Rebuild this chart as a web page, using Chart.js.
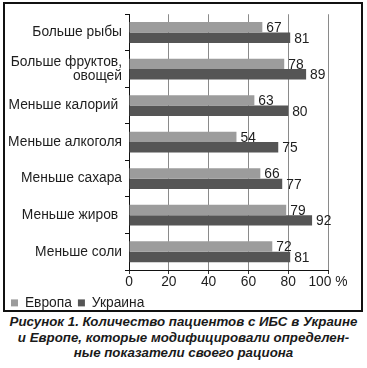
<!DOCTYPE html>
<html lang="ru">
<head>
    <meta charset="UTF-8">
    <title>Количество пациентов с ИБС</title>
    <script src="https://cdn.jsdelivr.net/npm/chart.js"></script>
    <style>
        body {
            margin: 0;
            background: #fff;
            font-family: "Liberation Sans", Arial, sans-serif;
        }
        .frame {
            position: absolute;
            left: 3px;
            top: 2px;
            width: 356px;
            height: 306px;
            border: 2px solid #111;
        }
        .caption {
            position: absolute;
            left: 0;
            top: 314px;
            width: 367px;
            margin: 0;
            text-align: center;
            font-weight: bold;
            font-style: italic;
            font-size: 13.3px;
            line-height: 15.5px;
            color: #1a1a1a;
        }
    </style>
</head>
<body>
    <div class="frame">
        <canvas id="dietChart" width="356" height="306"></canvas>
    </div>
    <p class="caption">Рисунок 1. Количество пациентов с ИБС в Украине<br>и Европе, которые модифицировали определен-<br>ные показатели своего рациона</p>

    <script>
        // категории (сверху вниз)
        const categories = [
            'Больше рыбы',
            ['Больше фруктов,', 'овощей'],
            'Меньше калорий ',
            'Меньше алкоголя',
            'Меньше сахара',
            'Меньше жиров ',
            'Меньше соли'
        ];
        const europe = [67, 78, 63, 54, 66, 79, 72];
        const ukraine = [81, 89, 80, 75, 77, 92, 81];
        const xTicks = [0, 20, 40, 60, 80, 100];

        const FONT = '"Liberation Sans", Arial, sans-serif';

        // подписи значений справа от столбиков
        const valueLabels = {
            id: 'valueLabels',
            afterDatasetsDraw(chart) {
                const ctx = chart.ctx;
                ctx.save();
                ctx.font = '13.8px ' + FONT;
                ctx.fillStyle = '#1e1e1e';
                ctx.textAlign = 'left';
                ctx.textBaseline = 'middle';
                chart.data.datasets.forEach((ds, i) => {
                    chart.getDatasetMeta(i).data.forEach((bar, j) => {
                        ctx.fillText(ds.data[j], bar.x + 4, bar.y + 1);
                    });
                });
                ctx.restore();
            }
        };

        // легенда пониже и компактнее
        const legendHeight = {
            id: 'legendHeight',
            beforeLayout(chart) {
                const lg = chart.legend;
                if (lg && !lg._fixed) {
                    const fit = lg.fit;
                    lg.fit = function () {
                        fit.call(this);
                        this.height = 20;
                    };
                    lg._fixed = true;
                }
            }
        };

        const ctx = document.getElementById('dietChart').getContext('2d');
        new Chart(ctx, {
            type: 'bar',
            data: {
                labels: categories,
                datasets: [
                    {
                        label: 'Европа',
                        data: europe,
                        backgroundColor: '#9c9c9c',
                        borderWidth: 0,
                        categoryPercentage: 0.57,
                        barPercentage: 1.0
                    },
                    {
                        label: 'Украина',
                        data: ukraine,
                        backgroundColor: '#555555',
                        borderWidth: 0,
                        categoryPercentage: 0.57,
                        barPercentage: 1.0
                    }
                ]
            },
            options: {
                indexAxis: 'y',
                responsive: false,
                animation: false,
                layout: {
                    padding: { left: 0, right: 33, top: 2, bottom: 0 }
                },
                scales: {
                    x: {
                        min: 0,
                        max: 100,
                        afterBuildTicks: (scale) => {
                            scale.ticks = xTicks.map(v => ({ value: v }));
                        },
                        grid: {
                            color: '#8a8a8a',
                            lineWidth: 1,
                            drawTicks: true,
                            tickLength: 4,
                            tickColor: '#333'
                        },
                        border: { display: true, color: '#111', width: 1 },
                        ticks: {
                            padding: 0,
                            maxRotation: 0,
                            minRotation: 0,
                            autoSkip: false,
                            color: '#1e1e1e',
                            font: { size: 13.8, family: FONT },
                            callback: (v) => v === 100 ? '100 %' : v
                        },
                        afterFit: (scale) => { scale.height = 20; }
                    },
                    y: {
                        grid: {
                            drawOnChartArea: false,
                            drawTicks: true,
                            tickLength: 4,
                            color: '#111',
                            offset: true
                        },
                        border: { display: true, color: '#111', width: 1 },
                        ticks: {
                            padding: 3,
                            color: '#1e1e1e',
                            font: { size: 13.8, family: FONT, lineHeight: 1.05 }
                        },
                        afterFit: (scale) => { scale.width = 124; }
                    }
                },
                plugins: {
                    legend: {
                        position: 'bottom',
                        align: 'start',
                        labels: {
                            boxWidth: 7,
                            boxHeight: 7,
                            padding: 6,
                            color: '#1e1e1e',
                            font: { size: 13.8, family: FONT }
                        }
                    },
                    tooltip: { enabled: false }
                }
            },
            plugins: [valueLabels, legendHeight]
        });
    </script>
</body>
</html>
